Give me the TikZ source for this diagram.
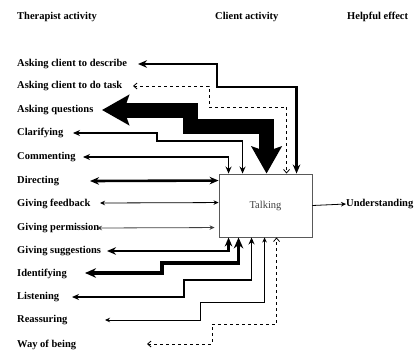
\documentclass[tikz,border=0pt]{standalone}
\usepackage{fontspec}
\setmainfont{Liberation Serif}
\usetikzlibrary{arrows.meta,calc}

\begin{document}
\begin{tikzpicture}[x=1pt, y=-1pt,
    colhead/.style={font=\fontsize{10.5}{12}\selectfont\bfseries,
      anchor=west, inner sep=0pt},
    actlabel/.style={font=\fontsize{10.5}{12}\selectfont\bfseries,
      anchor=west, inner sep=0pt},
    talkbox/.style={rectangle, draw=black!65, line width=0.9pt,
      minimum width=93pt, minimum height=63pt,
      font=\fontsize{10.5}{12}\selectfont, text=black!75},
    lnthin/.style={line width=0.8pt,
      {Stealth[length=5pt,width=4.5pt]}-{Stealth[length=5pt,width=4.5pt]}},
    lnmed/.style={line width=1.7pt,
      {Stealth[length=7pt,width=6pt]}-{Stealth[length=7pt,width=6pt]}},
    lnthick/.style={line width=2.6pt,
      {Stealth[length=9pt,width=7.5pt]}-{Stealth[length=9pt,width=7.5pt]}},
    lnheavy/.style={line width=3.4pt,
      {Stealth[length=11pt,width=9.5pt]}-{Stealth[length=11pt,width=9.5pt]}},
    lnhuge/.style={line width=15pt,
      {Stealth[length=27pt,width=30pt,inset=5pt]}-{Stealth[length=27pt,width=30pt,inset=5pt]}},
    lndash/.style={line width=0.8pt, dashed,
      {Straight Barb[length=3.5pt,width=6pt]}-{Straight Barb[length=3.5pt,width=6pt]}},
  ]
  \useasboundingbox (0,0) rectangle (418,351);

  % =================== HEADINGS ===================
  \node[colhead] (hTher) at (17,17) {Therapist activity};
  \node[colhead] (hClient) at (215,17) {Client activity};
  \node[colhead] (hEffect) at (347,17) {Helpful effect};

  % =================== CLIENT ACTIVITY ===================
  \node[talkbox] (talk) at (265.5,205.5) {Talking};
  \node[actlabel, inner sep=0pt] (undr) at (346,204) {Understanding};
  \draw[line width=0.8pt, -{Stealth[length=5pt,width=4.5pt]}]
  (talk.east) -- (undr.west);

  % =================== THERAPIST ACTIVITIES ===================
  \node[actlabel] (lDsc) at (17,64) {Asking client to describe};
  \node[actlabel] (lTsk) at (17,86) {Asking client to do task};
  \node[actlabel] (lQst) at (17,110) {Asking questions};
  \node[actlabel] (lClr) at (17,133) {Clarifying};
  \node[actlabel] (lCom) at (17,157) {Commenting};
  \node[actlabel] (lDir) at (17,181) {Directing};
  \node[actlabel] (lFdb) at (17,204) {Giving feedback};
  \node[actlabel] (lPrm) at (17,228) {Giving permission};
  \node[actlabel] (lSug) at (17,251) {Giving suggestions};
  \node[actlabel] (lIdt) at (17,274) {Identifying};
  \node[actlabel] (lLst) at (17,297) {Listening};
  \node[actlabel] (lRas) at (17,320) {Reassuring};
  \node[actlabel] (lWay) at (17,345) {Way of being};

  % arrow tips beside the labels
  \coordinate (tDsc) at (138,64);
  \coordinate (tTsk) at (133,86);
  \coordinate (tQst) at (102,110);
  \coordinate (tClr) at (73,133);
  \coordinate (tCom) at (83,157);
  \coordinate (tDir) at (90,181);
  \coordinate (tFdb) at (100,203);
  \coordinate (tPrm) at (97,228);
  \coordinate (tSug) at (107,251);
  \coordinate (tIdt) at (85,273);
  \coordinate (tLst) at (72,297);
  \coordinate (tRas) at (105,320);
  \coordinate (tWay) at (147,344);

  % into the top of the box
  \draw[lnthick] (tDsc) -| (217,87) -| ($(talk.north west)+(78,0)$);
  \draw[lndash] (tTsk) -| (209,107) -| ($(talk.north west)+(68,0)$);
  \draw[lnhuge] (tQst) -| (190,126) -| ($(talk.north west)+(48,0)$);
  \draw[lnmed] (tClr) -| (157,141) -| ($(talk.north west)+(24,0)$);
  \draw[lnmed] (tCom) -| ($(talk.north west)+(10,0)$);

  % into the left side of the box
  \draw[lnthick] (tDir) -- ($(talk.north west)+(0,7)$);
  \draw[lnthin] (tFdb) -- ($(talk.north west)+(0,29)$);
  \draw[lnthin, black!75] (tPrm) -- ($(talk.north west)+(-4,54)$);

  % into the bottom of the box
  \draw[lnthick] (tSug) -| ($(talk.south west)+(10,0)$);
  \draw[lnheavy] (tIdt) -| (162,263) -| ($(talk.south west)+(20,0)$);
  \draw[lnmed] (tLst) -| (184,280) -| ($(talk.south west)+(33,0)$);
  \draw[lnthin] (tRas) -| (200,302) -| ($(talk.south west)+(46,0)$);
  \draw[lndash] (tWay) -| (212,324) -| ($(talk.south west)+(58,0)$);

\end{tikzpicture}
\end{document}
